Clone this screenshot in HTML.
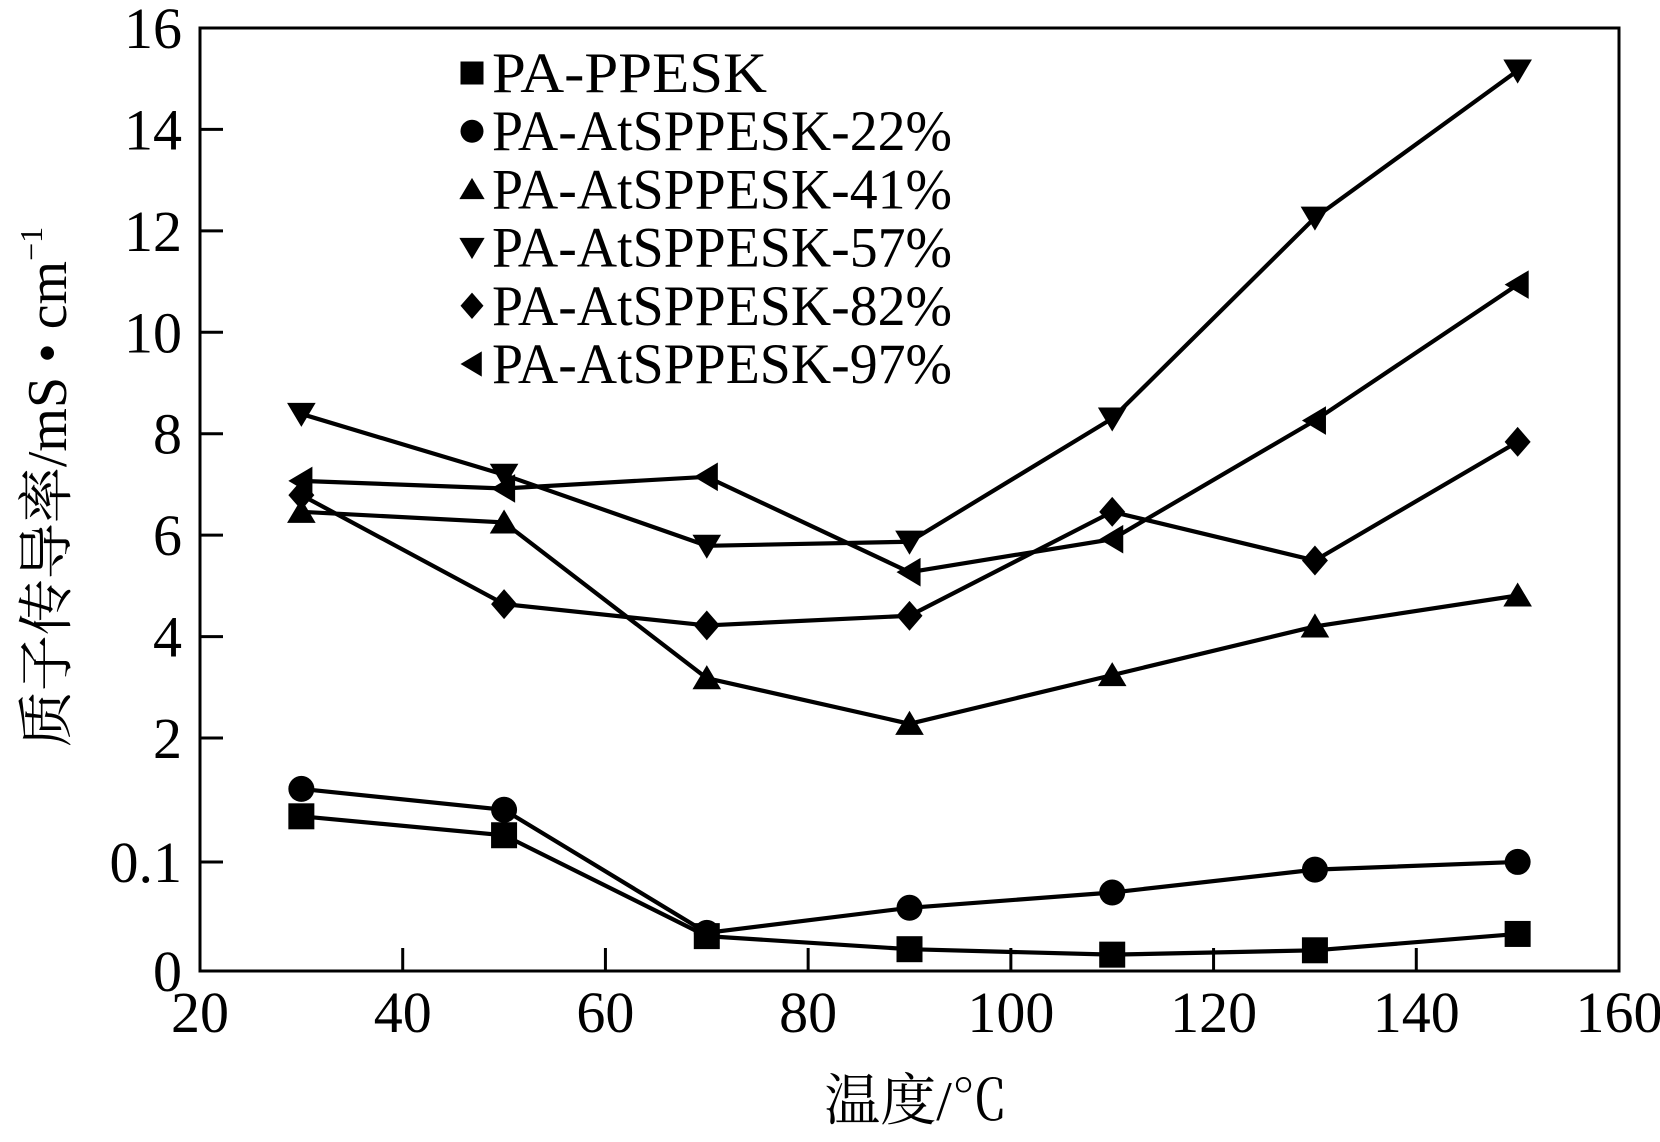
<!DOCTYPE html>
<html><head><meta charset="utf-8"><style>
html,body{margin:0;padding:0;background:#fff}
svg text{font-family:"Liberation Serif","Times New Roman",Times,"Nimbus Roman","Noto Serif CJK SC",serif;fill:#000}
svg text .cjk{font-family:"Noto Serif CJK SC","Noto Sans CJK SC",serif}
</style></head><body>
<svg id="chart" width="1660" height="1137" viewBox="0 0 1660 1137" xmlns="http://www.w3.org/2000/svg">
<rect x="200" y="28" width="1419" height="943" fill="none" stroke="#000" stroke-width="3"/>
<g id="ticks"></g>
<g id="series"></g>
<g id="legend"></g>
<text x="916" y="1120" font-size="56" text-anchor="middle"><tspan class="cjk">温度</tspan>/℃</text>
<text transform="translate(66,487) rotate(-90)" font-size="56" text-anchor="middle"><tspan class="cjk">质子传导率</tspan>/mS • cm<tspan font-size="32" dy="-24">−1</tspan></text>
</svg>
<script>
const xTemps = [30, 50, 70, 90, 110, 130, 150];
const seriesNames = ["PA-PPESK","PA-AtSPPESK-22%","PA-AtSPPESK-41%","PA-AtSPPESK-57%","PA-AtSPPESK-82%","PA-AtSPPESK-97%"];
const valsPPESK = [0.80, 0.51, 0.032, 0.020, 0.015, 0.019, 0.034];
const vals22 = [1.22, 0.90, 0.035, 0.058, 0.072, 0.093, 0.101];
const vals41 = [6.46, 6.25, 3.18, 2.28, 3.24, 4.20, 4.81];
const vals57 = [8.39, 7.19, 5.79, 5.87, 8.30, 12.26, 15.16];
const vals82 = [6.79, 4.64, 4.22, 4.41, 6.46, 5.50, 7.84];
const vals97 = [7.07, 6.92, 7.15, 5.27, 5.92, 8.26, 10.94];
const xTicks = [20, 40, 60, 80, 100, 120, 140, 160];
const yTicks = [0, 0.1, 2, 4, 6, 8, 10, 12, 14, 16];

const NS = "http://www.w3.org/2000/svg";
function xs(v){ return 200 + (v - 20) * (1419 / 140); }
function ys(v){
  if (v <= 0.1) return 971 - v / 0.1 * 109;
  if (v <= 2) return 862 - (v - 0.1) / 1.9 * 124;
  return 738 - (v - 2) * (710 / 14);
}
function mk(tag, attrs, parent){
  const e = document.createElementNS(NS, tag);
  for (const k in attrs) e.setAttribute(k, attrs[k]);
  parent.appendChild(e); return e;
}
const ticksG = document.getElementById('ticks');
xTicks.forEach(t => {
  const x = xs(t);
  if (t > 20 && t < 160) {
    const l = mk('line', {x1:x, x2:x, y1:971, y2:948, stroke:'#000', 'stroke-width':3}, ticksG);
    
    
  }
  const tx = mk('text', {x:x, y:1032, 'font-size':58, 'text-anchor':'middle'}, ticksG);
  tx.textContent = t;
  
  
});
yTicks.forEach(t => {
  const y = ys(t);
  if (t > 0 && t < 16) {
    const l = mk('line', {x1:200, x2:223, y1:y, y2:y, stroke:'#000', 'stroke-width':3}, ticksG);
    
    
  }
  const tx = mk('text', {x:182, y:y + 20, 'font-size':58, 'text-anchor':'end'}, ticksG);
  tx.textContent = t;
  
  
});

function marker(type, cx, cy, s, parent){
  let e;
  const h = s / 2;
  if (type === 'square') e = mk('rect', {x:cx-h, y:cy-h, width:s, height:s}, parent);
  else if (type === 'circle') e = mk('circle', {cx:cx, cy:cy, r:h}, parent);
  else if (type === 'up') e = mk('polygon', {points:`${cx},${cy-h} ${cx+h*1.1},${cy+h*0.85} ${cx-h*1.1},${cy+h*0.85}`}, parent);
  else if (type === 'down') e = mk('polygon', {points:`${cx},${cy+h} ${cx+h*1.1},${cy-h*0.85} ${cx-h*1.1},${cy-h*0.85}`}, parent);
  else if (type === 'diamond') e = mk('polygon', {points:`${cx},${cy-h*1.15} ${cx+h},${cy} ${cx},${cy+h*1.15} ${cx-h},${cy}`}, parent);
  else e = mk('polygon', {points:`${cx-h},${cy} ${cx+h*0.85},${cy-h*1.1} ${cx+h*0.85},${cy+h*1.1}`}, parent);
  e.setAttribute('fill', '#000');
  return e;
}
const allVals = [valsPPESK, vals22, vals41, vals57, vals82, vals97];
const types = ['square','circle','up','down','diamond','left'];
const seriesG = document.getElementById('series');
allVals.forEach((vals, i) => {
  const g = mk('g', {}, seriesG);
  
  
  const pts = vals.map((v, j) => xs(xTemps[j]) + ',' + ys(v)).join(' ');
  const pl = mk('polyline', {points:pts, fill:'none', stroke:'#000', 'stroke-width':4.2}, g);
  
  
  vals.forEach((v, j) => {
    const m = marker(types[i], xs(xTemps[j]), ys(v), 26, g);
    
    
  });
});
const legG = document.getElementById('legend');
seriesNames.forEach((n, i) => {
  const by = 92 + i * 58.2;
  const g = mk('g', {}, legG);
  
  
  marker(types[i], 472, by - 19, 23, g);
  const attrs = {x:492, y:by, 'font-size':57, lengthAdjust:'spacingAndGlyphs'};
  attrs.textLength = i > 0 ? 460 : 275;
  const t = mk('text', attrs, g);
  t.textContent = n;
});
</script>
</body></html>
